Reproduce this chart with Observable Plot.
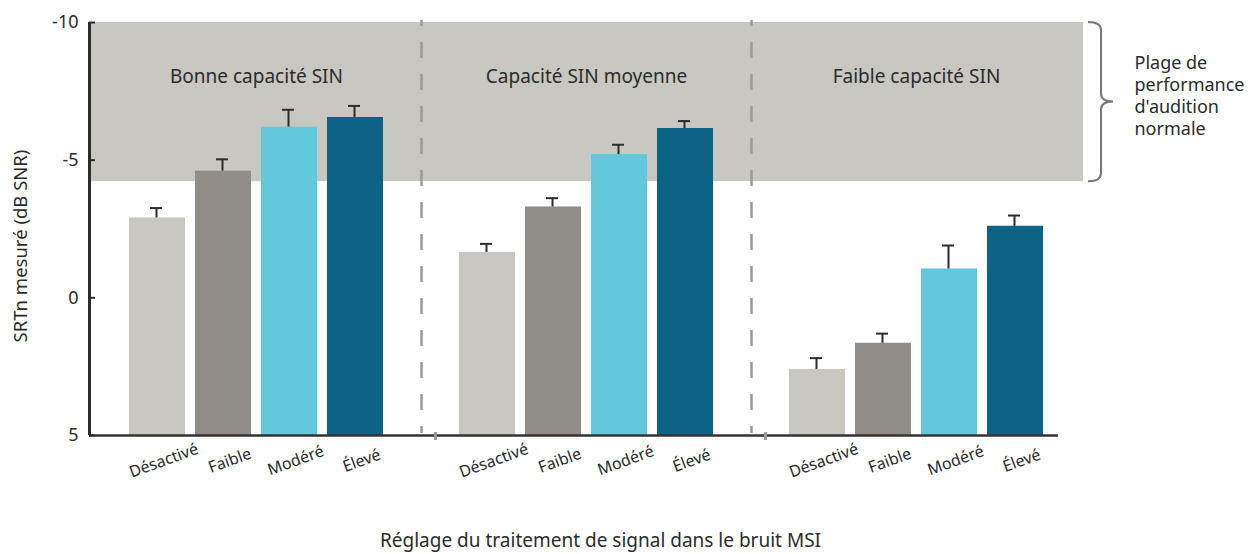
<!DOCTYPE html>
<html>
<head>
<meta charset="utf-8">
<script src="https://cdn.jsdelivr.net/npm/d3@7"></script>
<script src="https://cdn.jsdelivr.net/npm/@observablehq/plot@0.6"></script>
<style>
  html, body { margin: 0; padding: 0; background: #fff; }
  #chart { width: 1260px; height: 554px; }
  svg { font-family: "Noto Sans", "DejaVu Sans", sans-serif; }
</style>
</head>
<body>
<div id="chart"></div>
<script>
// ---- data ----
const groups = ["Bonne capacité SIN", "Capacité SIN moyenne", "Faible capacité SIN"];
const levels = ["Désactivé", "Faible", "Modéré", "Élevé"];
const meansBonne   = [-2.9, -4.6, -6.2, -6.55];
const meansMoyenne = [-1.65, -3.3, -5.2, -6.15];
const meansFaible  = [2.6, 1.65, -1.05, -2.6];
const errBonne   = [0.36, 0.43, 0.63, 0.42];
const errMoyenne = [0.31, 0.32, 0.36, 0.27];
const errFaible  = [0.41, 0.35, 0.85, 0.39];
const yTicks = [-10, -5, 0, 5];
const normalBand = [-10, -4.22];
const yDomain = [5, -10];
const colors = ["#c8c7c2", "#918d89", "#62c9dc", "#0e6285"];
const yLabel = "SRTn mesuré (dB SNR)";
const xTitle = "Réglage du traitement de signal dans le bruit MSI";
const bandNote = "Plage de\nperformance\nd'audition\nnormale";

// ---- build table ----
const means = [meansBonne, meansMoyenne, meansFaible];
const errs = [errBonne, errMoyenne, errFaible];
const key = (g, l) => g + "|" + l;
const data = [];
groups.forEach((g, gi) => levels.forEach((l, li) => {
  data.push({group: g, level: l, key: key(g, l), value: means[gi][li], top: means[gi][li] - errs[gi][li]});
}));
const gaps = ["gap1", "gap2"];
const xDomain = [];
groups.forEach((g, gi) => {
  if (gi > 0) xDomain.push(gaps[gi - 1]);
  levels.forEach(l => xDomain.push(key(g, l)));
});

const W = 1260, H = 554, mL = 89, mR = 177, mT = 22, mB = 119;
const frameW = W - mL - mR;
const ink = "#2b2b2b";
const ls = {letterSpacing: "0.4px"};

const plot = Plot.plot({
  width: W, height: H,
  marginLeft: mL, marginRight: mR, marginTop: mT, marginBottom: mB,
  style: {fontFamily: "'Noto Sans', 'DejaVu Sans', sans-serif", fontSize: "18px", color: ink, background: "white"},
  x: {domain: xDomain, paddingInner: 0.15, paddingOuter: 0.6, axis: null},
  y: {domain: yDomain, ticks: yTicks, tickFormat: d => String(d)},
  color: {domain: levels, range: colors},
  marks: [
    // normal-hearing band
    Plot.rectY([normalBand], {y1: d => d[0], y2: d => d[1], fill: "#c8c7c2"}),
    // group separators
    Plot.ruleX(gaps, {x: d => d, y1: yDomain[0], y2: yDomain[1], dy: -2, stroke: "#9a9a9d", strokeWidth: 2.5, strokeDasharray: "16,16", strokeDashoffset: 9}),
    // bars
    Plot.barY(data, {x: "key", y1: yDomain[0], y2: "value", fill: "level"}),
    // error bars
    Plot.ruleX(data, {x: "key", y1: "value", y2: "top", stroke: ink, strokeWidth: 2, dx: -1}),
    Plot.tickY(data, {x: "key", y: "top", stroke: ink, strokeWidth: 2, insetLeft: 21, insetRight: 23}),
    // axes lines
    Plot.rectY([0], {y1: yDomain[0], y2: yDomain[1], fill: ink, insetRight: frameW - 2, insetLeft: -1}),
    Plot.ruleY([yDomain[0]], {y: d => d, stroke: "#333", strokeWidth: 2.5, insetRight: 25}),
    Plot.ruleY(yTicks, {y: d => d, stroke: ink, strokeWidth: 2, insetRight: frameW - 6}),
    // small gray ticks
    Plot.ruleX(gaps, {x: d => d, dx: 14, stroke: "#9a9a9d", strokeWidth: 3, insetTop: -3, insetBottom: -5, y1: yDomain[0], y2: yDomain[0]}),
    Plot.axisY({ticks: yTicks, tickFormat: d => String(d), tickSize: 0, tickPadding: 11, fontSize: 18, label: null}),
    // y label
    Plot.text([yLabel], {frameAnchor: "left", textAnchor: "middle", rotate: -90, dx: -68, dy: 17, text: d => d, fontSize: 18.5, fill: ink, ...ls}),
    // group labels
    Plot.text(groups, {x: g => key(g, levels[1]), dx: 33, frameAnchor: "top", dy: 47, text: d => d, fontSize: 19, fill: ink, ...ls}),
    // category labels
    Plot.text(data, {x: "key", text: "level", frameAnchor: "bottom", dy: 30, dx: 8, rotate: -20, fontSize: 16, fill: ink}),
    // x title
    Plot.text([xTitle], {frameAnchor: "bottom", dy: 111, dx: 14, text: d => d, fontSize: 19, fill: ink, ...ls}),
    // band note
    Plot.text([bandNote], {frameAnchor: "right", y: (normalBand[0] + normalBand[1]) / 2, dy: -7, dx: 51, textAnchor: "start", text: d => d, fontSize: 18, lineHeight: 1.23, fill: ink, letterSpacing: "0.5px"})
  ]
});

// curly brace from the plot's own scales
const ys = plot.scale("y"), xs = plot.scale("x");
const yA = ys.apply(normalBand[0]), yB = ys.apply(normalBand[1]);
const x0 = xs.range[1] + 5, x1 = x0 + 13, x2 = x0 + 25;
const ym = (yA + yB) / 2, r = 8;
const path = `M${x0},${yA} Q${x1},${yA} ${x1},${yA + r} L${x1},${ym - r} Q${x1},${ym} ${x2},${ym} Q${x1},${ym} ${x1},${ym + r} L${x1},${yB - r} Q${x1},${yB} ${x0},${yB}`;
d3.select(plot).append("path").attr("d", path).attr("fill", "none").attr("stroke", "#777").attr("stroke-width", 2);

document.getElementById("chart").appendChild(plot);
</script>
</body>
</html>
